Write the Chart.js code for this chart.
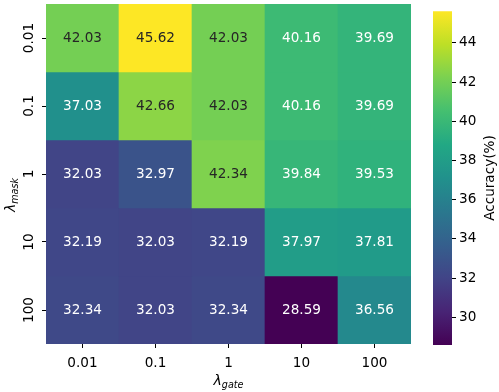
<!DOCTYPE html>
<html>
<head>
<meta charset="utf-8">
<script src="https://cdn.jsdelivr.net/npm/chart.js@4.4.1/dist/chart.umd.min.js"></script>
<style>
  html, body { margin: 0; padding: 0; background: #fff; }
  #wrap { position: relative; width: 499px; height: 392px; }
  #heat { position: absolute; left: 0; top: 0; }
  #cbar { position: absolute; left: 420px; top: 0; }
</style>
</head>
<body>
<div id="wrap">
  <canvas id="heat" width="420" height="392"></canvas>
  <canvas id="cbar" width="79" height="392"></canvas>
</div>
<script>
// lambda_gate on x, lambda_mask on y
const gateLabels = ['0.01', '0.1', '1', '10', '100'];
const maskLabels = ['0.01', '0.1', '1', '10', '100'];

const row001 = [42.03, 45.62, 42.03, 40.16, 39.69];
const row01  = [37.03, 42.66, 42.03, 40.16, 39.69];
const row1   = [32.03, 32.97, 42.34, 39.84, 39.53];
const row10  = [32.19, 32.03, 32.19, 37.97, 37.81];
const row100 = [32.34, 32.03, 32.34, 28.59, 36.56];
const rows = [row001, row01, row1, row10, row100];

const cbarTicks = [30, 32, 34, 36, 38, 40, 42, 44];

const vmin = Math.min(...rows.flat());
const vmax = Math.max(...rows.flat());

const FONT = 'DejaVu Sans';
Chart.defaults.font.family = FONT;
Chart.defaults.font.size = 13.6;
Chart.defaults.color = '#000';

// viridis, sampled every 0.1
const viridis = ['#440154', '#482475', '#414487', '#355f8d', '#2a788e', '#21918c',
                 '#22a884', '#44bf70', '#7ad151', '#bddf26', '#fde725'];

function hexRgb(h) {
  return [parseInt(h.slice(1, 3), 16), parseInt(h.slice(3, 5), 16), parseInt(h.slice(5, 7), 16)];
}

function cmap(t) {
  t = Math.max(0, Math.min(1, t));
  const p = t * (viridis.length - 1);
  const i = Math.min(Math.floor(p), viridis.length - 2);
  const f = p - i;
  const a = hexRgb(viridis[i]), b = hexRgb(viridis[i + 1]);
  return a.map((c, k) => Math.round(c + (b[k] - c) * f));
}

function colorOf(v) {
  const c = cmap((v - vmin) / (vmax - vmin));
  return `rgb(${c[0]},${c[1]},${c[2]})`;
}

// same rule seaborn uses to pick annotation colour
function textColorOf(v) {
  const c = cmap((v - vmin) / (vmax - vmin)).map(x => {
    x = x / 255;
    return x <= 0.03928 ? x / 12.92 : Math.pow((x + 0.055) / 1.055, 2.4);
  });
  const lum = 0.2126 * c[0] + 0.7152 * c[1] + 0.0722 * c[2];
  return lum > 0.408 ? '#262626' : '#ffffff';
}

const heatPlugin = {
  id: 'heatText',
  afterDatasetsDraw(chart) {
    const { ctx, scales: { x, y } } = chart;
    ctx.save();
    ctx.font = `13.6px "${FONT}"`;
    ctx.textAlign = 'center';
    ctx.textBaseline = 'middle';
    rows.forEach((row, r) => {
      row.forEach((v, c) => {
        ctx.fillStyle = textColorOf(v);
        ctx.fillText(v.toFixed(2), x.getPixelForValue(c), y.getPixelForValue(r + 0.5));
      });
    });
    ctx.restore();
  },
  afterDraw(chart) {
    const { ctx, scales: { x, y } } = chart;
    ctx.save();
    ctx.fillStyle = '#000';
    // y tick labels, rotated
    ctx.font = `13.6px "${FONT}"`;
    ctx.textAlign = 'center';
    ctx.textBaseline = 'middle';
    maskLabels.forEach((lab, r) => {
      ctx.save();
      ctx.translate(29, y.getPixelForValue(r + 0.5));
      ctx.rotate(-Math.PI / 2);
      ctx.fillText(lab, 0, 0);
      ctx.restore();
    });
    // y title: lambda_mask
    ctx.save();
    ctx.translate(15, 195);
    ctx.rotate(-Math.PI / 2);
    ctx.textAlign = 'left';
    ctx.textBaseline = 'alphabetic';
    ctx.font = `italic 14px "${FONT}"`;
    const lw = ctx.measureText('λ').width;
    ctx.font = `italic 9.6px "${FONT}"`;
    const sw = ctx.measureText('mask').width;
    const x0 = -(lw + sw) / 2;
    ctx.font = `italic 14px "${FONT}"`;
    ctx.fillText('λ', x0, 0);
    ctx.font = `italic 9.6px "${FONT}"`;
    ctx.fillText('mask', x0 + lw, 2.5);
    ctx.restore();
    // x title: lambda_gate
    ctx.save();
    ctx.textAlign = 'left';
    ctx.textBaseline = 'alphabetic';
    ctx.font = `italic 14px "${FONT}"`;
    const lw2 = ctx.measureText('λ').width;
    ctx.font = `italic 9.6px "${FONT}"`;
    const sw2 = ctx.measureText('gate').width;
    const cx = (x.left + x.right) / 2;
    const gx = cx - (lw2 + sw2) / 2;
    ctx.font = `italic 14px "${FONT}"`;
    ctx.fillText('λ', gx, 385);
    ctx.font = `italic 9.6px "${FONT}"`;
    ctx.fillText('gate', gx + lw2, 387.5);
    ctx.restore();
    ctx.restore();
  }
};

new Chart(document.getElementById('heat'), {
  type: 'bar',
  data: {
    labels: gateLabels,
    datasets: rows.map((row, r) => ({
      label: maskLabels[r],
      data: row.map(() => [r, r + 1]),
      backgroundColor: row.map(colorOf),
      borderWidth: 0,
      barPercentage: 1,
      categoryPercentage: 1,
      grouped: false
    }))
  },
  options: {
    responsive: false,
    animation: false,
    devicePixelRatio: 1,
    layout: { padding: { top: 4, right: 9, left: 0, bottom: 0 } },
    plugins: { legend: { display: false }, tooltip: { enabled: false } },
    scales: {
      x: {
        grid: { drawOnChartArea: false, offset: false, tickLength: 4, tickColor: '#000', tickWidth: 1 },
        border: { display: false },
        ticks: { padding: 7, maxRotation: 0, minRotation: 0 },
        afterFit(s) { s.height = 48; }
      },
      y: {
        type: 'linear',
        min: 0,
        max: 5,
        reverse: true,
        grid: { drawOnChartArea: false, tickLength: 4, tickColor: '#000', tickWidth: 1 },
        border: { display: false },
        ticks: { display: false },
        afterBuildTicks(s) { s.ticks = maskLabels.map((_, r) => ({ value: r + 0.5 })); },
        afterFit(s) { s.width = 46; }
      }
    }
  },
  plugins: [heatPlugin]
});

const cbarPlugin = {
  id: 'cbarTitle',
  afterDraw(chart) {
    const { ctx } = chart;
    ctx.save();
    ctx.fillStyle = '#000';
    ctx.font = `13.6px "${FONT}"`;
    ctx.textAlign = 'center';
    ctx.textBaseline = 'middle';
    ctx.translate(70, (chart.chartArea.top + chart.chartArea.bottom) / 2);
    ctx.rotate(-Math.PI / 2);
    ctx.fillText('Accuracy(%)', 0, 0);
    ctx.restore();
  }
};

new Chart(document.getElementById('cbar'), {
  type: 'bar',
  data: {
    labels: [''],
    datasets: [{
      data: [[vmin, vmax]],
      borderWidth: 0,
      barPercentage: 1,
      categoryPercentage: 1,
      backgroundColor(context) {
        const chart = context.chart;
        const ys = chart.scales.y;
        if (!ys) return colorOf(vmin);
        const y0 = ys.getPixelForValue(vmin), y1 = ys.getPixelForValue(vmax);
        if (!isFinite(y0) || !isFinite(y1) || y0 === y1) return colorOf(vmin);
        const g = chart.ctx.createLinearGradient(0, y0, 0, y1);
        viridis.forEach((c, i) => g.addColorStop(i / (viridis.length - 1), c));
        return g;
      }
    }]
  },
  options: {
    responsive: false,
    animation: false,
    devicePixelRatio: 1,
    layout: { padding: { top: 4, left: 13, right: 0, bottom: 0 } },
    plugins: { legend: { display: false }, tooltip: { enabled: false } },
    scales: {
      x: { display: false, afterFit(s) { s.height = 47; } },
      y: {
        position: 'right',
        min: vmin,
        max: vmax,
        grid: { drawOnChartArea: false, tickLength: 4, tickColor: '#000', tickWidth: 1 },
        border: { display: false },
        ticks: { padding: 3 },
        afterBuildTicks(s) { s.ticks = cbarTicks.map(v => ({ value: v })); },
        afterFit(s) { s.width = 47; }
      }
    }
  },
  plugins: [cbarPlugin]
});
</script>
</body>
</html>
